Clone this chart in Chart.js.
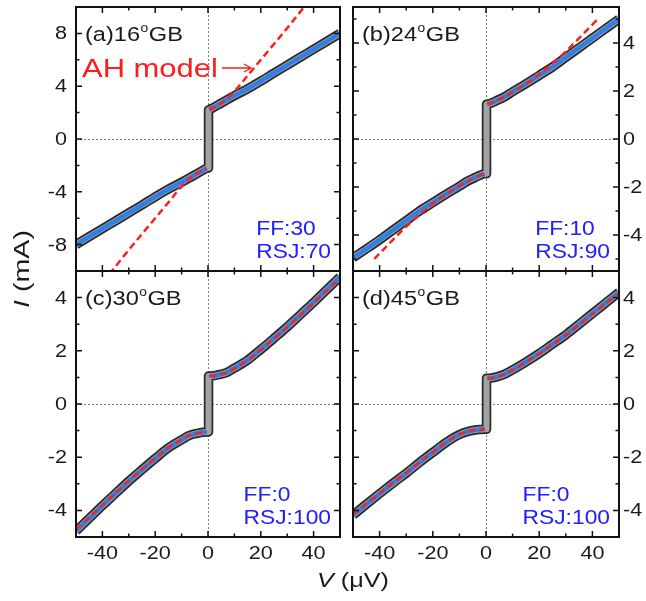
<!DOCTYPE html>
<html>
<head>
<meta charset="utf-8">
<script src="https://cdn.jsdelivr.net/npm/chart.js"></script>
<style>
  body { margin: 0; background: #fff; }
  #wrap { position: relative; width: 646px; height: 601px; background: #fff; }
  #wrap canvas { position: absolute; left: 0; top: 0; }
</style>
</head>
<body>
<div id="wrap">
  <canvas id="pa" width="646" height="601"></canvas>
  <canvas id="pb" width="646" height="601"></canvas>
  <canvas id="pc" width="646" height="601"></canvas>
  <canvas id="pd" width="646" height="601"></canvas>
</div>
<script>
// x axis (V in uV)
const vMajor = [-40, -20, 0, 20, 40];
const vMinor = [-50, -30, -10, 10, 30, 50];
// y axes (I in mA)
const yMajorA = [-8, -4, 0, 4, 8];
const yMinorA = [-10, -6, -2, 2, 6, 10];
const yMajor = [-4, -2, 0, 2, 4];
const yMinor = [-5, -3, -1, 1, 3, 5];

const panelNames = ['(a)16', '(b)24', '(c)30', '(d)45'];
const ffLabels = ['FF:30', 'FF:10', 'FF:0', 'FF:0'];
const rsjLabels = ['RSJ:70', 'RSJ:90', 'RSJ:100', 'RSJ:100'];

// measured points (open circles)
const dataV = [-50, -45, -40, -35, -30, -25, -20, -15, -10, -7, -4, -2, -0.5, 0.2, 0.2, 0.5, 2, 4, 7, 10, 15, 20, 25, 30, 35, 40, 45, 50];
const aData = [-8.0, -7.4, -6.8, -6.2, -5.6, -5.0, -4.38, -3.8, -3.28, -2.95, -2.6, -2.38, -2.22, -2.2, 2.2, 2.22, 2.38, 2.6, 2.95, 3.28, 3.8, 4.38, 5.0, 5.6, 6.2, 6.8, 7.4, 8.0];
const bData = [-4.95, -4.58, -4.2, -3.8, -3.4, -3.0, -2.65, -2.3, -1.97, -1.76, -1.6, -1.5, -1.45, -1.45, 1.45, 1.45, 1.5, 1.6, 1.76, 1.97, 2.3, 2.65, 3.0, 3.4, 3.8, 4.2, 4.6, 5.0];
const cData = [-4.78, -4.3, -3.82, -3.36, -2.9, -2.47, -2.05, -1.65, -1.35, -1.18, -1.1, -1.06, -1.05, -1.05, 1.05, 1.05, 1.06, 1.1, 1.18, 1.35, 1.65, 2.05, 2.47, 2.9, 3.36, 3.82, 4.3, 4.78];
const dData = [-4.18, -3.77, -3.37, -2.98, -2.6, -2.2, -1.82, -1.45, -1.15, -1.04, -0.98, -0.96, -0.95, -0.95, 0.97, 0.97, 0.98, 1.02, 1.12, 1.28, 1.58, 1.9, 2.25, 2.6, 3.0, 3.4, 3.8, 4.2];

// FF + RSJ fit (blue)
const fitV = [-50, -45, -40, -35, -30, -25, -20, -15, -10, -7, -4, -2, -0.5, 0, 0.5, 2, 4, 7, 10, 15, 20, 25, 30, 35, 40, 45, 50];
const aFit = [-8.0, -7.4, -6.8, -6.2, -5.6, -5.0, -4.38, -3.8, -3.28, -2.95, -2.6, -2.38, -2.22, null, 2.22, 2.38, 2.6, 2.95, 3.28, 3.8, 4.38, 5.0, 5.6, 6.2, 6.8, 7.4, 8.0];
const bFit = [-4.95, -4.58, -4.2, -3.8, -3.4, -3.0, -2.65, -2.3, -1.97, -1.76, -1.6, -1.5, -1.45, null, 1.45, 1.5, 1.6, 1.76, 1.97, 2.3, 2.65, 3.0, 3.4, 3.8, 4.2, 4.6, 5.0];
const cFit = [-4.78, -4.3, -3.82, -3.36, -2.9, -2.47, -2.05, -1.65, -1.35, -1.18, -1.1, -1.06, -1.05, null, 1.05, 1.06, 1.1, 1.18, 1.35, 1.65, 2.05, 2.47, 2.9, 3.36, 3.82, 4.3, 4.78];
const dFit = [-4.18, -3.77, -3.37, -2.98, -2.6, -2.2, -1.82, -1.45, -1.15, -1.04, -0.98, -0.96, -0.95, null, 0.97, 0.98, 1.02, 1.12, 1.28, 1.58, 1.9, 2.25, 2.6, 3.0, 3.4, 3.8, 4.2];

// AH model (red dashed)
const aAhV = [-40, -36.4, -30, -25, -20, -15, -10, -5, -0.5, 0, 0.5, 5, 10, 15, 20, 25, 30, 36.4, 40];
const aAh = [-10.9, -10, -8.4, -7.2, -6.0, -4.8, -3.6, -2.7, -2.22, null, 2.22, 2.7, 3.6, 4.8, 6.0, 7.2, 8.4, 10, 10.9];
const bAhV = [-42, -35, -30, -25, -20, -15, -10, -5, -2, -0.5, 0, 0.5, 2, 5, 10, 15, 20, 25, 30, 35, 42];
const bAh = [-5.0, -4.2, -3.65, -3.15, -2.7, -2.3, -1.95, -1.65, -1.5, -1.45, null, 1.45, 1.5, 1.65, 1.95, 2.3, 2.7, 3.15, 3.65, 4.2, 5.0];
const cAh = [-4.72, -4.26, -3.8, -3.34, -2.88, -2.45, -2.04, -1.64, -1.33, -1.17, -1.1, -1.06, -1.05, null, 1.05, 1.06, 1.1, 1.17, 1.33, 1.64, 2.04, 2.45, 2.88, 3.34, 3.8, 4.26, 4.72];
const dAh = [-4.15, -3.75, -3.35, -2.96, -2.58, -2.19, -1.81, -1.44, -1.14, -1.04, -0.98, -0.96, -0.95, null, 0.97, 0.98, 1.02, 1.12, 1.27, 1.57, 1.89, 2.24, 2.59, 2.98, 3.38, 3.78, 4.17];

const FONT = '"Liberation Sans", Arial, sans-serif';

function pts(xs, ys) {
    return xs.map((x, i) => ({ x: x, y: ys[i] }));
}

// text with a bit of horizontal stretch, like the scanned figure
function txt(ctx, s, x, y, o) {
    ctx.save();
    ctx.font = o.font;
    ctx.fillStyle = o.color || '#1a1a1a';
    ctx.textBaseline = o.base || 'alphabetic';
    ctx.textAlign = 'left';
    const sx = o.sx || 1.18;
    const w = ctx.measureText(s).width * sx;
    let x0 = x;
    if (o.align === 'right') x0 = x - w;
    else if (o.align === 'center') x0 = x - w / 2;
    ctx.translate(x0, y);
    ctx.scale(sx, 1);
    ctx.fillText(s, 0, 0);
    ctx.restore();
    return w;
}

function textWidth(ctx, s, font, sx) {
    ctx.save();
    ctx.font = font;
    const w = ctx.measureText(s).width * sx;
    ctx.restore();
    return w;
}

function makeDeco(p) {
    return {
        id: 'deco' + p.idx,
        beforeDatasetsDraw(chart) {
            const ctx = chart.ctx;
            const a = chart.chartArea;
            const x0 = chart.scales.x.getPixelForValue(0);
            const y0 = chart.scales.y.getPixelForValue(0);
            ctx.save();
            ctx.strokeStyle = '#7a7a7a';
            ctx.lineWidth = 1;
            ctx.setLineDash([2, 2]);
            ctx.beginPath();
            ctx.moveTo(Math.round(x0) + 0.5, a.top);
            ctx.lineTo(Math.round(x0) + 0.5, a.bottom);
            ctx.moveTo(a.left, Math.round(y0) + 0.5);
            ctx.lineTo(a.right, Math.round(y0) + 0.5);
            ctx.stroke();
            ctx.restore();
        },
        afterDatasetsDraw(chart) {
            const ctx = chart.ctx;
            const a = chart.chartArea;
            const xs = chart.scales.x;
            const ys = chart.scales.y;
            ctx.save();
            ctx.strokeStyle = '#111';
            ctx.lineWidth = 1.5;
            ctx.beginPath();
            const tick = (vals, len) => {
                vals.forEach(v => {
                    const x = xs.getPixelForValue(v);
                    ctx.moveTo(x, a.top); ctx.lineTo(x, a.top + len);
                    ctx.moveTo(x, a.bottom); ctx.lineTo(x, a.bottom - len);
                });
            };
            const ytick = (vals, len) => {
                vals.forEach(v => {
                    const y = ys.getPixelForValue(v);
                    ctx.moveTo(a.left, y); ctx.lineTo(a.left + len, y);
                    ctx.moveTo(a.right, y); ctx.lineTo(a.right - len, y);
                });
            };
            tick(vMajor, 6); tick(vMinor, 3.5);
            ytick(p.yMajor, 6); ytick(p.yMinor, 3.5);
            ctx.stroke();
            ctx.lineWidth = 2;
            ctx.strokeRect(a.left, a.top, a.right - a.left, a.bottom - a.top);
            ctx.restore();

            const tickFont = '18px ' + FONT;
            p.yMajor.forEach(v => {
                const y = ys.getPixelForValue(v) + 1;
                if (p.side === 'left') txt(ctx, String(v), a.left - 9, y, { font: tickFont, align: 'right', base: 'middle', sx: 1.2 });
                else txt(ctx, String(v), a.right + 4, y, { font: tickFont, base: 'middle', sx: 1.2 });
            });
            if (p.showX) {
                vMajor.forEach(v => {
                    txt(ctx, String(v), xs.getPixelForValue(v), 559, { font: tickFont, align: 'center', sx: 1.2 });
                });
            }

            // panel name with superscript degree
            const nf = '20px ' + FONT;
            let x = a.left + 9;
            const by = a.top + 34;
            x += txt(ctx, p.name, x, by, { font: nf, sx: 1.18 });
            x += txt(ctx, 'o', x + 0.5, by - 9, { font: '12px ' + FONT, sx: 1.15 }) + 1;
            txt(ctx, 'GB', x, by, { font: nf, sx: 1.18 });

            // fit weights, block right-aligned on the RSJ line
            const blue = '#2020ff';
            const wf = '20px ' + FONT;
            const fx = a.right - 9 - textWidth(ctx, p.rsj, wf, 1.14);
            txt(ctx, p.ff, fx, a.bottom - 36, { font: wf, color: blue, sx: 1.14 });
            txt(ctx, p.rsj, fx, a.bottom - 13, { font: wf, color: blue, sx: 1.14 });

            if (p.extra) p.extra(ctx, chart);
        }
    };
}

function makePanel(id, p) {
    const box = p.box;
    new Chart(document.getElementById(id), {
        type: 'line',
        data: {
            datasets: [
                {
                    data: pts(p.ahV, p.ah),
                    borderColor: '#ff1f1f',
                    borderWidth: 2.5,
                    borderDash: [7, 4],
                    pointRadius: 0,
                    clip: 0
                },
                {
                    data: pts(fitV, p.fit),
                    borderColor: '#2f7fe6',
                    borderWidth: 4.5,
                    pointRadius: 0,
                    clip: 0
                },
                {
                    data: pts(dataV, p.data),
                    borderColor: '#a3a3a3',
                    borderWidth: 6,
                    pointRadius: 0,
                    clip: 0
                },
                {
                    data: pts(dataV, p.data),
                    borderColor: '#2a2a2a',
                    borderWidth: 9.5,
                    pointRadius: 0,
                    clip: 0
                }
            ]
        },
        options: {
            responsive: false,
            animation: false,
            devicePixelRatio: 1,
            events: [],
            layout: {
                padding: { left: box[0], top: box[1], right: 646 - box[2], bottom: 601 - box[3] }
            },
            elements: { line: { cubicInterpolationMode: 'monotone', borderJoinStyle: 'round', fill: false } },
            plugins: { legend: { display: false }, tooltip: { enabled: false } },
            scales: {
                x: { type: 'linear', min: -50, max: 50, display: false },
                y: { type: 'linear', min: p.yMin, max: p.yMax, display: false }
            }
        },
        plugins: [makeDeco(p)]
    });
}

function drawGlobal(ctx) {
    // AH model annotation
    txt(ctx, 'AH model', 82, 77, { font: '26px ' + FONT, color: '#ff1c1c', sx: 1.19 });
    ctx.save();
    ctx.strokeStyle = '#ff1c1c';
    ctx.lineWidth = 1.3;
    ctx.beginPath();
    ctx.moveTo(222, 68); ctx.lineTo(251, 68);
    ctx.moveTo(244, 64); ctx.lineTo(251, 68); ctx.lineTo(244, 72);
    ctx.stroke();
    ctx.restore();

    // y title
    ctx.save();
    ctx.translate(29, 269);
    ctx.rotate(-Math.PI / 2);
    ctx.font = 'italic 22px ' + FONT;
    const w1 = ctx.measureText('I').width;
    ctx.font = '22px ' + FONT;
    const w2 = ctx.measureText(' (mA)').width;
    const sx = 1.3;
    ctx.scale(sx, 1);
    let x = -(w1 + w2) / 2;
    ctx.fillStyle = '#1a1a1a';
    ctx.font = 'italic 22px ' + FONT;
    ctx.fillText('I', x, 0);
    ctx.font = '22px ' + FONT;
    ctx.fillText(' (mA)', x + w1, 0);
    ctx.restore();

    // x title
    const v1 = textWidth(ctx, 'V', 'italic 21px ' + FONT, 1.2);
    const v2 = textWidth(ctx, ' (\u03bcV)', '21px ' + FONT, 1.2);
    const xs = 353 - (v1 + v2) / 2;
    txt(ctx, 'V', xs, 587, { font: 'italic 21px ' + FONT, sx: 1.2 });
    txt(ctx, ' (\u03bcV)', xs + v1, 587, { font: '21px ' + FONT, sx: 1.2 });
}

makePanel('pa', {
    idx: 0, box: [76, 7, 340, 271], yMin: -10, yMax: 10, yMajor: yMajorA, yMinor: yMinorA,
    side: 'left', showX: false, name: panelNames[0], ff: ffLabels[0], rsj: rsjLabels[0],
    data: aData, fit: aFit, ahV: aAhV, ah: aAh, extra: drawGlobal
});
makePanel('pb', {
    idx: 1, box: [353, 7, 619, 271], yMin: -5.5, yMax: 5.5, yMajor: yMajor, yMinor: yMinor,
    side: 'right', showX: false, name: panelNames[1], ff: ffLabels[1], rsj: rsjLabels[1],
    data: bData, fit: bFit, ahV: bAhV, ah: bAh
});
makePanel('pc', {
    idx: 2, box: [76, 271, 340, 537], yMin: -5, yMax: 5, yMajor: yMajor, yMinor: yMinor,
    side: 'left', showX: true, name: panelNames[2], ff: ffLabels[2], rsj: rsjLabels[2],
    data: cData, fit: cFit, ahV: fitV, ah: cAh
});
makePanel('pd', {
    idx: 3, box: [353, 271, 619, 537], yMin: -5, yMax: 5, yMajor: yMajor, yMinor: yMinor,
    side: 'right', showX: true, name: panelNames[3], ff: ffLabels[3], rsj: rsjLabels[3],
    data: dData, fit: dFit, ahV: fitV, ah: dAh
});
</script>
</body>
</html>
